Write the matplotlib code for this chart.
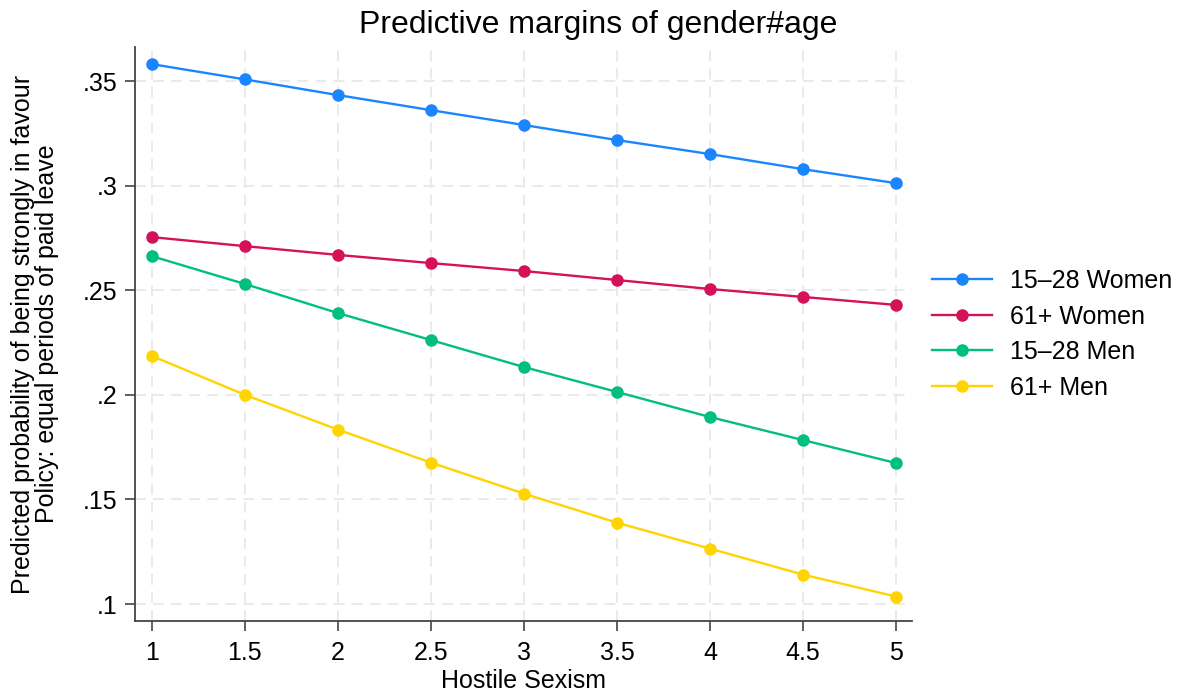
import numpy as np
import matplotlib.pyplot as plt

plt.rcParams['font.family'] = ['Liberation Sans', 'DejaVu Sans']

# Hostile sexism levels
hostile = [1, 1.5, 2, 2.5, 3, 3.5, 4, 4.5, 5]

# predictive margins
women_15_28 = [0.3581, 0.3508, 0.3433, 0.3361, 0.3290, 0.3218, 0.3151, 0.3079, 0.3012]
women_61 = [0.2754, 0.2711, 0.2669, 0.2630, 0.2592, 0.2549, 0.2506, 0.2468, 0.2430]
men_15_28 = [0.2663, 0.2530, 0.2391, 0.2262, 0.2133, 0.2014, 0.1894, 0.1784, 0.1674]
men_61 = [0.2186, 0.2000, 0.1834, 0.1676, 0.1528, 0.1389, 0.1265, 0.1141, 0.1036]

labels = ["15\u201328 Women", "61+ Women", "15\u201328 Men", "61+ Men"]
colors = ["#1a85ff", "#d41159", "#00bf7f", "#ffd400"]

fig = plt.figure(figsize=(11.89, 6.99), dpi=100)
ax = fig.add_axes([0.1135, 0.1116, 0.6535, 0.8212])

for ys, lab, c in zip([women_15_28, women_61, men_15_28, men_61], labels, colors):
    ax.plot(hostile, ys, color=c, lw=1.7, marker='o', ms=8, label=lab)

ax.set_xlim(0.909, 5.086)
ax.set_ylim(0.0919, 0.3663)
ax.set_xticks(hostile)
ax.set_xticklabels(["1", "1.5", "2", "2.5", "3", "3.5", "4", "4.5", "5"])
ax.set_yticks([0.1, 0.15, 0.2, 0.25, 0.3, 0.35])
ax.set_yticklabels([".1", ".15", ".2", ".25", ".3", ".35"])
ax.tick_params(labelsize=18, length=7.5, width=1.2, color='#444444')
ax.tick_params(axis='x', pad=7)
ax.tick_params(axis='y', pad=5)

ax.grid(True, color='#e8e8e8', ls=(0, (6, 4)), lw=1.3)
ax.set_axisbelow(True)
for s in ['top', 'right']:
    ax.spines[s].set_visible(False)
for s in ['left', 'bottom']:
    ax.spines[s].set_color('#444444')
    ax.spines[s].set_linewidth(1.3)

ax.set_xlabel("Hostile Sexism", fontsize=18, labelpad=3)
ax.set_ylabel("Predicted probability of being strongly in favour\nPolicy: equal periods of paid leave",
              fontsize=18, linespacing=0.97)
ax.yaxis.set_label_coords(-0.098, 0.5)

fig.text(0.503, 0.964, "Predictive margins of gender#age", fontsize=23,
         ha='center', va='center')

fig.legend(loc='center left', bbox_to_anchor=(0.765, 0.5215), frameon=False,
           fontsize=18, handlelength=2.4, handletextpad=0.7, labelspacing=0.46)

fig.savefig("out.png", dpi=100, facecolor='white')
